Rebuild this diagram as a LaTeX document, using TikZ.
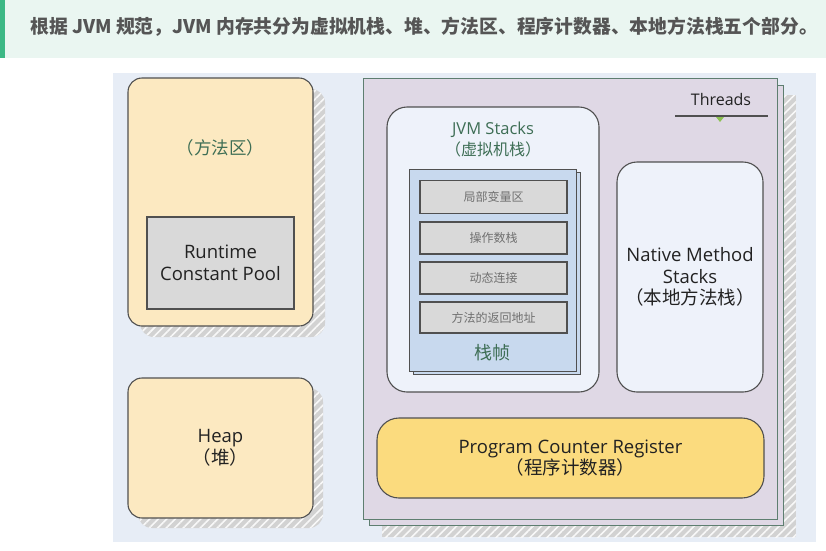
\documentclass[tikz,border=0pt]{standalone}
\usepackage{fontspec}
\setmainfont{Open Sans}
\newfontfamily\cjk{Noto Sans CJK SC}
\usetikzlibrary{patterns.meta}
\definecolor{bannerbg}{HTML}{EAF6F1}
\definecolor{bannerbar}{HTML}{3DB885}
\definecolor{headtxt}{HTML}{555555}
\definecolor{diagbg}{HTML}{E7EDF6}
\definecolor{ylight}{HTML}{FCE9C1}
\definecolor{ydark}{HTML}{FBDB7E}
\definecolor{boxgray}{HTML}{D9D9D9}
\definecolor{panelfill}{HTML}{DFD8E5}
\definecolor{panelline}{HTML}{5E7E70}
\definecolor{stackfill}{HTML}{EEF2FA}
\definecolor{framefill}{HTML}{C8D9EE}
\definecolor{greentxt}{HTML}{3E6E55}
\definecolor{shadowgray}{HTML}{D2D2D2}
\definecolor{edge}{HTML}{505050}
\definecolor{tri}{HTML}{8CC152}
\definecolor{maintxt}{HTML}{222222}
\definecolor{smalltxt}{HTML}{707070}
\tikzset{
  hatch/.style={fill=shadowgray, postaction={pattern={Lines[angle=45,distance=6pt,line width=1.6pt]}, pattern color=white!85!shadowgray}},
  roundbox/.style={draw=edge, line width=1.1pt, inner sep=0pt},
  graybox/.style={draw=edge, line width=1.1pt, fill=boxgray, inner sep=0pt},
  paneltxt/.style={text=maintxt, align=center, font=\fontsize{18.5}{21.5}\selectfont},
  greenlbl/.style={text=greentxt, align=center},
  smalllbl/.style={text=smalltxt, font=\cjk\fontsize{12}{14}\selectfont},
}
\begin{document}
\begin{tikzpicture}[x=1pt,y=-1pt]
\useasboundingbox (0,0) rectangle (826,550);
\fill[white] (0,0) rectangle (826,550);
% banner
\fill[bannerbg] (0,0) rectangle (826,58);
\fill[bannerbar] (0,0) rectangle (5,58);
\node[anchor=west, inner sep=0pt, text=headtxt, font=\cjk\bfseries\fontsize{18.8}{21}\selectfont] (head) at (30,27)
  {根据 JVM 规范，JVM 内存共分为虚拟机栈、堆、方法区、程序计数器、本地方法栈五个部分。};
% diagram background
\fill[diagbg] (113,73) rectangle (816,542);

% method area
\fill[hatch, rounded corners=14pt] (140,89) rectangle (325,337);
\node[roundbox, fill=ylight, rounded corners=14pt, minimum width=185pt, minimum height=248pt] (ma) at (220.5,202) {};
\node[greenlbl, font=\cjk\fontsize{17.5}{19}\selectfont] (matxt) at (220.5,148) {（方法区）};
\node[graybox, minimum width=147pt, minimum height=92pt, paneltxt] (rcp) at (220.5,263) {Runtime\\Constant Pool};

% heap
\fill[hatch, rounded corners=14pt] (138,388) rectangle (323,528);
\node[roundbox, fill=ylight, rounded corners=14pt, minimum width=185pt, minimum height=140pt, paneltxt] (heap) at (220.5,448) {Heap\\{\cjk （堆）}};

% threads panel
\fill[hatch] (382,95) rectangle (796,537);
\draw[panelline, line width=1pt, fill=panelfill] (369,85) rectangle (783,525);
\node[draw=panelline, line width=1pt, fill=panelfill, minimum width=414pt, minimum height=441pt, inner sep=0pt] (threads) at (570,298.5) {};
\node[text=maintxt, font=\fontsize{16}{18}\selectfont] (thtxt) at (721,99) {Threads};
\coordinate (thl) at (675,116);
\coordinate (thr) at (768,116);
\draw[edge, line width=1.1pt] (thl) -- (thr);
\fill[tri] (716,117) -- (724,117) -- (720,122) -- cycle;

% JVM stacks
\node[roundbox, fill=stackfill, rounded corners=20pt, minimum width=212pt, minimum height=285pt] (jvms) at (493,249.5) {};
\node[greenlbl, font=\fontsize{16.5}{18}\selectfont] (jvmtxt) at (493,130) {JVM Stacks};
\node[greenlbl, font=\cjk\fontsize{16}{18}\selectfont] (jvmtxt2) at (493,149) {（虚拟机栈）};
% stack frame
\node[draw=edge, line width=1pt, fill=framefill, minimum width=167pt, minimum height=202pt, inner sep=0pt] (frame2) at (496.5,273.5) {};
\node[draw=edge, line width=1pt, fill=framefill, minimum width=167pt, minimum height=202pt, inner sep=0pt] (frame) at (492.5,270) {};
\node[graybox, minimum width=147pt, minimum height=33pt, smalllbl] (f1) at (493.5,197) {局部变量区};
\node[graybox, minimum width=147pt, minimum height=32pt, smalllbl] (f2) at (493.5,238) {操作数栈};
\node[graybox, minimum width=147pt, minimum height=32pt, smalllbl] (f3) at (493.5,278) {动态连接};
\node[graybox, minimum width=147pt, minimum height=31pt, smalllbl] (f4) at (493.5,317.5) {方法的返回地址};
\node[greenlbl, font=\cjk\fontsize{18}{20}\selectfont] (frtxt) at (492.5,353) {栈帧};

% native method stacks
\node[roundbox, fill=stackfill, rounded corners=20pt, minimum width=146pt, minimum height=230pt, paneltxt] (native) at (690,277)
  {Native Method\\Stacks\\{\cjk （本地方法栈）}};

% program counter register
\node[roundbox, fill=ydark, rounded corners=22pt, minimum width=387pt, minimum height=80pt, paneltxt] (pc) at (570.5,458)
  {Program Counter Register\\{\cjk （程序计数器）}};
\end{tikzpicture}
\end{document}
